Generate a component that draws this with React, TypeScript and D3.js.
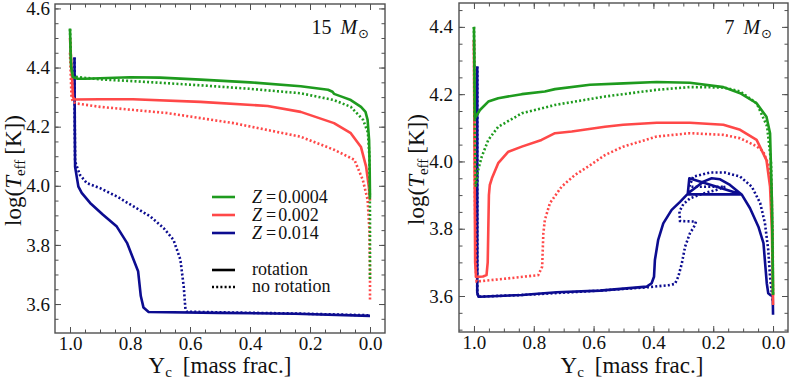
import React, { useEffect, useRef } from "react";
import * as d3 from "d3";

type Pt = [number, number];

// axis ticks
const xTicks = [1.0, 0.8, 0.6, 0.4, 0.2, 0.0];
const yTicks15 = [3.6, 3.8, 4.0, 4.2, 4.4, 4.6];
const yTicks7 = [3.6, 3.8, 4.0, 4.2, 4.4];

// legend
const metallicities = ["0.0004", "0.002", "0.014"];
const seriesColors = ["#1e9b1e", "#ff4848", "#0c0c90"];
const styleLabels = ["rotation", "no rotation"];

// 15 Msun tracks: [Yc, log Teff]
const m15LowRot: Pt[] = [
  [1.0, 4.532], [0.998, 4.45], [0.996, 4.4], [0.99, 4.368], [0.975, 4.362], [0.95, 4.362],
  [0.9, 4.364], [0.8, 4.367], [0.7, 4.366], [0.565, 4.359], [0.4, 4.35], [0.231, 4.337],
  [0.14, 4.325], [0.125, 4.318], [0.12, 4.311], [0.09, 4.3], [0.064, 4.29], [0.03, 4.267],
  [0.015, 4.25], [0.008, 4.223], [0.003, 4.155], [0.001, 4.05], [0.0, 3.96],
];
const m15LowNoRot: Pt[] = [
  [1.0, 4.53], [0.996, 4.4], [0.99, 4.37], [0.975, 4.368], [0.9, 4.36], [0.79, 4.354],
  [0.565, 4.34], [0.4, 4.328], [0.231, 4.313], [0.12, 4.29], [0.064, 4.267], [0.023, 4.223],
  [0.007, 4.18], [0.002, 4.1], [0.0, 3.9], [0.0, 3.68],
];
const m15MidRot: Pt[] = [
  [1.0, 4.5], [0.995, 4.4], [0.99, 4.3], [0.985, 4.292], [0.9, 4.293], [0.79, 4.293],
  [0.565, 4.284], [0.341, 4.27], [0.231, 4.25], [0.12, 4.212], [0.064, 4.178], [0.03, 4.131],
  [0.013, 4.065], [0.004, 3.997], [0.0, 3.95],
];
const m15MidNoRot: Pt[] = [
  [1.0, 4.45], [0.995, 4.3], [0.99, 4.283], [0.975, 4.278], [0.9, 4.267], [0.676, 4.246],
  [0.455, 4.212], [0.231, 4.166], [0.12, 4.122], [0.052, 4.088], [0.024, 4.02], [0.008, 3.953],
  [0.002, 3.85], [0.0, 3.7], [0.0, 3.613],
];
const m15HighRot: Pt[] = [
  [0.985, 4.434], [0.984, 4.2], [0.983, 4.064], [0.972, 3.997], [0.961, 3.976], [0.933, 3.942],
  [0.89, 3.902], [0.844, 3.862], [0.81, 3.807], [0.773, 3.711], [0.764, 3.627], [0.755, 3.588],
  [0.738, 3.573], [0.5, 3.57], [0.25, 3.567], [0.0, 3.56],
];
const m15HighNoRot: Pt[] = [
  [0.985, 4.434], [0.984, 4.2], [0.983, 4.082], [0.967, 4.037], [0.944, 4.009], [0.9, 3.992],
  [0.844, 3.964], [0.788, 3.93], [0.732, 3.896], [0.688, 3.857], [0.655, 3.817], [0.632, 3.75],
  [0.621, 3.66], [0.615, 3.58], [0.61, 3.574], [0.5, 3.572], [0.25, 3.568], [0.0, 3.562],
];

// 7 Msun tracks
const m7LowRot: Pt[] = [
  [1.0, 4.4], [0.998, 4.25], [0.997, 4.128], [0.98, 4.153], [0.952, 4.178], [0.919, 4.188],
  [0.84, 4.2], [0.763, 4.208], [0.729, 4.215], [0.612, 4.228], [0.5, 4.232], [0.389, 4.236],
  [0.278, 4.234], [0.166, 4.221], [0.11, 4.203], [0.055, 4.173], [0.022, 4.133], [0.01, 4.084],
  [0.004, 3.885], [0.001, 3.7], [0.0, 3.603],
];
const m7LowNoRot: Pt[] = [
  [1.0, 4.4], [0.997, 4.1], [0.994, 3.925], [0.986, 3.975], [0.974, 4.014], [0.952, 4.064],
  [0.919, 4.103], [0.84, 4.143], [0.729, 4.168], [0.562, 4.193], [0.389, 4.213], [0.278, 4.221],
  [0.166, 4.22], [0.11, 4.208], [0.055, 4.173], [0.02, 4.105], [0.007, 4.0], [0.002, 3.8],
  [0.0, 3.6],
];
const m7MidRot: Pt[] = [
  [1.0, 4.36], [0.998, 4.0], [0.996, 3.7], [0.993, 3.657], [0.97, 3.658], [0.958, 3.662],
  [0.954, 3.7], [0.952, 3.8], [0.95, 3.9], [0.947, 3.93], [0.94, 3.95], [0.919, 3.995],
  [0.885, 4.029], [0.84, 4.044], [0.774, 4.064], [0.729, 4.084], [0.673, 4.089], [0.562, 4.103],
  [0.501, 4.109], [0.389, 4.115], [0.278, 4.115], [0.166, 4.109], [0.11, 4.094], [0.055, 4.064],
  [0.022, 4.004], [0.01, 3.925], [0.004, 3.8], [0.001, 3.65], [0.0, 3.573],
];
const m7MidNoRot: Pt[] = [
  [1.0, 4.36], [0.997, 3.9], [0.993, 3.66], [0.991, 3.643], [0.9, 3.651], [0.785, 3.662],
  [0.772, 3.687], [0.768, 3.786], [0.763, 3.826], [0.746, 3.876], [0.707, 3.925], [0.662, 3.96],
  [0.618, 3.985], [0.562, 4.019], [0.501, 4.044], [0.389, 4.074], [0.278, 4.084], [0.166, 4.079],
  [0.11, 4.069], [0.055, 4.045], [0.033, 4.03], [0.015, 3.99], [0.005, 3.93], [0.001, 3.75],
  [0.0, 3.6],
];
const m7HighRot: Pt[] = [
  [0.989, 4.282], [0.989, 3.9], [0.989, 3.61], [0.985, 3.598], [0.98, 3.598], [0.84, 3.603],
  [0.723, 3.611], [0.579, 3.616], [0.5, 3.622], [0.422, 3.628], [0.406, 3.638], [0.398, 3.657],
  [0.395, 3.707], [0.384, 3.767], [0.367, 3.816], [0.339, 3.856], [0.311, 3.88], [0.287, 3.902],
  [0.105, 3.902], [0.28, 3.95], [0.285, 3.905], [0.255, 3.925], [0.233, 3.94], [0.205, 3.95],
  [0.177, 3.947], [0.144, 3.93], [0.105, 3.902], [0.077, 3.861], [0.049, 3.806], [0.032, 3.757],
  [0.021, 3.638], [0.016, 3.608], [0.008, 3.602], [0.001, 3.601], [0.0, 3.544],
];
const m7HighNoRot: Pt[] = [
  [0.989, 4.282], [0.989, 3.61], [0.985, 3.598], [0.84, 3.603], [0.579, 3.616], [0.42, 3.626],
  [0.35, 3.632], [0.328, 3.636], [0.317, 3.657], [0.305, 3.697], [0.294, 3.747], [0.278, 3.786],
  [0.261, 3.811], [0.258, 3.821], [0.311, 3.823], [0.313, 3.851], [0.3, 3.873], [0.278, 3.89],
  [0.233, 3.905], [0.19, 3.915], [0.16, 3.925], [0.28, 3.925], [0.267, 3.955], [0.211, 3.967],
  [0.161, 3.967], [0.11, 3.955], [0.071, 3.925], [0.043, 3.876], [0.027, 3.816], [0.016, 3.737],
  [0.01, 3.657], [0.004, 3.608], [0.0, 3.58],
];

const FONT = "Liberation Serif, DejaVu Serif, serif";
const FRAME = "#505050";
const INK = "#111";

const App = () => {
  const svgRef = useRef<SVGSVGElement>(null);
  const width = 789;
  const height = 382;

  useEffect(() => {
    if (!svgRef.current) return;
    const svg = d3.select(svgRef.current);
    svg.selectAll("*").remove();

    const panels = [
      {
        id: "p15", left: 55, right: 385, top: 4, bottom: 333,
        yDomain: [3.502, 4.615], yTicks: yTicks15, yPad: 5,
        ylabX: 21, mass: "15", massX: 369, xlabX: 220,
        tracks: [[m15HighNoRot, m15HighRot], [m15MidNoRot, m15MidRot], [m15LowNoRot, m15LowRot]],
        legend: true,
      },
      {
        id: "p7", left: 459, right: 788, top: 3, bottom: 332,
        yDomain: [3.493, 4.471], yTicks: yTicks7, yPad: 6,
        ylabX: 424, mass: "7", massX: 772, xlabX: 632,
        tracks: [[m7HighNoRot, m7HighRot], [m7MidNoRot, m7MidRot], [m7LowNoRot, m7LowRot]],
        legend: false,
      },
    ];

    const txt = (sel: d3.Selection<any, unknown, null, undefined>, size: number) =>
      sel.attr("font-family", FONT).style("font-family", FONT).style("font-size", `${size}px`).attr("fill", INK);

    panels.forEach((p) => {
      const x = d3.scaleLinear().domain([1.05, -0.05]).range([p.left, p.right]);
      const y = d3.scaleLinear().domain(p.yDomain).range([p.bottom, p.top]);
      const g = svg.append("g");

      g.append("clipPath")
        .attr("id", `clip-${p.id}`)
        .append("rect")
        .attr("x", p.left)
        .attr("y", p.top)
        .attr("width", p.right - p.left)
        .attr("height", p.bottom - p.top);

      const line = d3
        .line<Pt>()
        .x((d) => x(d[0]))
        .y((d) => y(d[1]));

      const plot = g.append("g").attr("clip-path", `url(#clip-${p.id})`);
      // blue first, green last; dotted under solid
      [0, 1, 2].forEach((k) => {
        const ci = 2 - k;
        const [noRot, rot] = p.tracks[k];
        plot.append("path")
          .datum(noRot)
          .attr("fill", "none")
          .attr("stroke", seriesColors[ci])
          .attr("stroke-width", 2.6)
          .attr("stroke-dasharray", "2,2.2")
          .attr("d", line);
        plot.append("path")
          .datum(rot)
          .attr("fill", "none")
          .attr("stroke", seriesColors[ci])
          .attr("stroke-width", 2.6)
          .attr("stroke-linejoin", "round")
          .attr("d", line);
      });

      const minorX = d3.range(0, 21).map((i) => i * 0.05);
      const minorY = d3.range(Math.ceil(p.yDomain[0] / 0.05), Math.floor(p.yDomain[1] / 0.05) + 1).map((i) => i * 0.05);

      const styleAxis = (sel: d3.Selection<SVGGElement, unknown, null, undefined>) => {
        sel.select(".domain").remove();
        sel.attr("font-family", FONT);
        sel.selectAll(".tick line").attr("stroke", FRAME).attr("stroke-width", 1);
        txt(sel.selectAll("text"), 19);
      };

      // bottom
      g.append("g")
        .attr("transform", `translate(0,${p.bottom})`)
        .call(d3.axisBottom(x).tickValues(minorX).tickSize(-3.5).tickFormat(() => ""))
        .call(styleAxis);
      g.append("g")
        .attr("transform", `translate(0,${p.bottom})`)
        .call(d3.axisBottom(x).tickValues(xTicks).tickSize(-6).tickPadding(4).tickFormat(d3.format(".1f")))
        .call(styleAxis);
      // top
      g.append("g")
        .attr("transform", `translate(0,${p.top})`)
        .call(d3.axisTop(x).tickValues(minorX).tickSize(-3.5).tickFormat(() => ""))
        .call(styleAxis);
      g.append("g")
        .attr("transform", `translate(0,${p.top})`)
        .call(d3.axisTop(x).tickValues(xTicks).tickSize(-6).tickFormat(() => ""))
        .call(styleAxis);
      // left
      g.append("g")
        .attr("transform", `translate(${p.left},0)`)
        .call(d3.axisLeft(y).tickValues(minorY).tickSize(-3.5).tickFormat(() => ""))
        .call(styleAxis);
      g.append("g")
        .attr("transform", `translate(${p.left},0)`)
        .call(d3.axisLeft(y).tickValues(p.yTicks).tickSize(-6).tickPadding(p.yPad).tickFormat(d3.format(".1f")))
        .call(styleAxis);
      // right
      g.append("g")
        .attr("transform", `translate(${p.right},0)`)
        .call(d3.axisRight(y).tickValues(minorY).tickSize(-3.5).tickFormat(() => ""))
        .call(styleAxis);
      g.append("g")
        .attr("transform", `translate(${p.right},0)`)
        .call(d3.axisRight(y).tickValues(p.yTicks).tickSize(-6).tickFormat(() => ""))
        .call(styleAxis);

      g.append("rect")
        .attr("x", p.left)
        .attr("y", p.top)
        .attr("width", p.right - p.left)
        .attr("height", p.bottom - p.top)
        .attr("fill", "none")
        .attr("stroke", FRAME)
        .attr("stroke-width", 1.4);

      // x label
      const xl = txt(g.append("text"), 23)
        .attr("x", p.xlabX)
        .attr("y", 373)
        .attr("text-anchor", "middle");
      xl.append("tspan").text("Y");
      xl.append("tspan").attr("dy", 4).style("font-size", "15px").text("c");
      xl.append("tspan").attr("dy", -4).attr("dx", 11).text("[mass frac.]");

      // y label
      const yl = txt(g.append("text"), 23)
        .attr("transform", `translate(${p.ylabX},${(p.top + p.bottom) / 2 + 2}) rotate(-90)`)
        .attr("text-anchor", "middle");
      yl.append("tspan").text("log(");
      yl.append("tspan").style("font-style", "italic").text("T");
      yl.append("tspan").attr("dy", 4).style("font-size", "15px").text("eff");
      yl.append("tspan").attr("dy", -4).attr("dx", 5).text("[K])");

      // mass label
      const ml = txt(g.append("text"), 20)
        .attr("x", p.massX)
        .attr("y", 34)
        .attr("text-anchor", "end");
      ml.append("tspan").text(p.mass);
      ml.append("tspan").attr("dx", 9).style("font-style", "italic").text("M");
      ml.append("tspan")
        .attr("dy", 4)
        .attr("dx", 1)
        .style("font-size", "13px")
        .style("font-family", "DejaVu Sans")
        .text("\u2299");

      if (p.legend) {
        const lx0 = 212;
        const lx1 = 235;
        const tx = 252;
        const rows = [197, 215, 233];
        metallicities.forEach((z, i) => {
          g.append("line")
            .attr("x1", lx0).attr("x2", lx1)
            .attr("y1", rows[i]).attr("y2", rows[i])
            .attr("stroke", seriesColors[i])
            .attr("stroke-width", 2.6);
          const t = txt(g.append("text"), 18)
            .attr("x", tx)
            .attr("y", rows[i] + 6);
          t.append("tspan").style("font-style", "italic").text("Z");
          t.append("tspan").attr("dx", 4).text("=");
          t.append("tspan").attr("dx", 2).text(z);
        });
        const srows = [270, 287];
        styleLabels.forEach((s, i) => {
          g.append("line")
            .attr("x1", lx0).attr("x2", lx1)
            .attr("y1", srows[i]).attr("y2", srows[i])
            .attr("stroke", "#000")
            .attr("stroke-width", 2.6)
            .attr("stroke-dasharray", i === 1 ? "2,2.2" : null);
          txt(g.append("text"), 18)
            .attr("x", tx)
            .attr("y", srows[i] + 5)
            .text(s);
        });
      }
    });
  }, []);

  return (
    <div style={{ position: "absolute", left: 0, top: 0 }}>
      <svg ref={svgRef} width={width} height={height} style={{ display: "block", background: "#fff" }}></svg>
    </div>
  );
};

export default App;
